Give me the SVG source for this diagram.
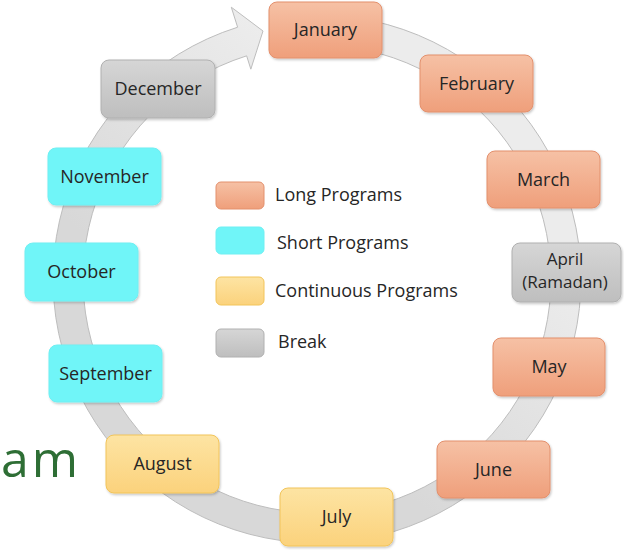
<svg xmlns="http://www.w3.org/2000/svg" width="624" height="550" viewBox="0 0 624 550">
<style>
text{font-family:"Open Sans","Liberation Sans",sans-serif;font-size:18px;fill:#262626}
.m{text-anchor:middle}
.long{fill:url(#gLong);stroke:#e3906d;stroke-width:1}
.short{fill:#70f5f8;stroke:#6eeff2;stroke-width:1}
.cont{fill:url(#gCont);stroke:#f2c45a;stroke-width:1}
.brk{fill:url(#gBrk);stroke:#b0b0b0;stroke-width:1}
.box{filter:url(#sh)}
</style>
<defs>
<linearGradient id="gLong" x1="0" y1="0" x2="0" y2="1"><stop offset="0" stop-color="#f6c1a5"/><stop offset="1" stop-color="#ef9f7b"/></linearGradient>
<linearGradient id="gCont" x1="0" y1="0" x2="0" y2="1"><stop offset="0" stop-color="#fde4a3"/><stop offset="1" stop-color="#fbd27c"/></linearGradient>
<linearGradient id="gBrk" x1="0" y1="0" x2="0" y2="1"><stop offset="0" stop-color="#d6d6d6"/><stop offset="1" stop-color="#bebebe"/></linearGradient>
<linearGradient id="gRing" gradientUnits="userSpaceOnUse" x1="250" y1="20" x2="80" y2="230"><stop offset="0" stop-color="#ececec"/><stop offset="1" stop-color="#d8d8d8"/></linearGradient>
<filter id="sh" x="-10%" y="-10%" width="125%" height="130%"><feDropShadow dx="1" dy="1.5" stdDeviation="1.2" flood-color="#000" flood-opacity="0.22"/></filter>
</defs>
<rect width="624" height="550" fill="#ffffff"/>
<g id="connectors">
<path d="M 340.01 16.0 A 264 264 0 1 1 237.61 27.22 L 231.30 7.19 L 263 31 L 250.84 69.18 L 246.63 55.83 A 234 234 0 1 0 337.39 45.89 Z" fill="url(#gRing)" stroke="#bdbdbd" stroke-width="1"/>
</g>
<text id="title-fragment" x="1" y="477" style="font-size:50px;fill:#2e6e35;letter-spacing:3px">am</text>
<g id="january"><rect class="box long" x="269" y="2" width="113" height="56" rx="8"/><text class="m" x="325.5" y="36">January</text></g>
<g id="february"><rect class="box long" x="420" y="55" width="113" height="57" rx="8"/><text class="m" x="476.5" y="89.5">February</text></g>
<g id="march"><rect class="box long" x="487" y="151" width="113" height="57" rx="8"/><text class="m" x="543.5" y="185.5">March</text></g>
<g id="april"><rect class="box brk" x="512" y="243" width="109" height="59" rx="8"/><text class="m" x="565" y="265" style="font-size:17px">April</text><text class="m" x="565" y="288" style="font-size:17px">(Ramadan)</text></g>
<g id="may"><rect class="box long" x="493" y="338" width="112" height="58" rx="8"/><text class="m" x="549" y="373">May</text></g>
<g id="june"><rect class="box long" x="437" y="441" width="113" height="57" rx="8"/><text class="m" x="493.5" y="475.5">June</text></g>
<g id="july"><rect class="box cont" x="280" y="488" width="113" height="58" rx="8"/><text class="m" x="336.5" y="523">July</text></g>
<g id="august"><rect class="box cont" x="106" y="435" width="113" height="58" rx="8"/><text class="m" x="162.5" y="470">August</text></g>
<g id="september"><rect class="box short" x="49" y="345" width="113" height="57" rx="8"/><text class="m" x="105.5" y="379.5">September</text></g>
<g id="october"><rect class="box short" x="25" y="243" width="113" height="58" rx="8"/><text class="m" x="81.5" y="278">October</text></g>
<g id="november"><rect class="box short" x="48" y="148" width="113" height="57" rx="8"/><text class="m" x="104.5" y="182.5">November</text></g>
<g id="december"><rect class="box brk" x="101" y="60" width="114" height="58" rx="8"/><text class="m" x="158" y="95">December</text></g>
<g id="legend">
<g id="legend-long"><rect class="long" x="216" y="182" width="48" height="27" rx="5"/><text x="275" y="201">Long Programs</text></g>
<g id="legend-short"><rect class="short" x="216" y="227" width="48" height="27" rx="5"/><text x="277" y="249">Short Programs</text></g>
<g id="legend-cont"><rect class="cont" x="216" y="277" width="48" height="28" rx="5"/><text x="275" y="297">Continuous Programs</text></g>
<g id="legend-break"><rect class="brk" x="216" y="329" width="48" height="28" rx="5"/><text x="278" y="348">Break</text></g>
</g>
</svg>
